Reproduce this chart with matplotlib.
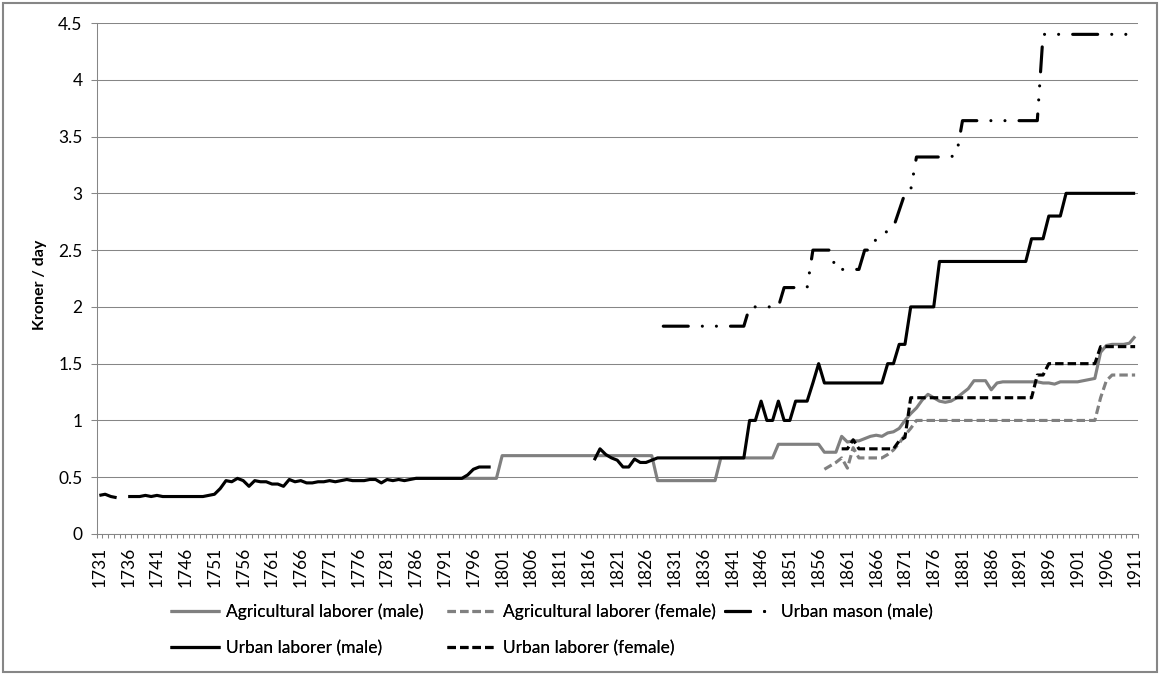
import numpy as np
import matplotlib
matplotlib.use("Agg")
import matplotlib.pyplot as plt
from matplotlib.patches import Rectangle
from matplotlib.ticker import FixedLocator, FuncFormatter

plt.rcParams['font.family'] = ['Lato', 'DejaVu Sans']

# ---------------- data ----------------
FIRST_YEAR = 1731
LAST_YEAR = 1911
years = np.arange(FIRST_YEAR, LAST_YEAR + 1)
tick_years = list(range(1731, 1912, 5))
y_ticks = [0, 0.5, 1, 1.5, 2, 2.5, 3, 3.5, 4, 4.5]

labels = ["Agricultural laborer (male)", "Agricultural laborer (female)",
          "Urban mason (male)", "Urban laborer (male)", "Urban laborer (female)"]

# Agricultural laborer (male), from 1786
agri_male_start = 1786
agri_male = [0.49, 0.49, 0.49, 0.49, 0.49, 0.49, 0.49, 0.49, 0.49, 0.49,
             0.49, 0.49, 0.49, 0.49, 0.49,                                  # 1786-1800
             0.69, 0.69, 0.69, 0.69, 0.69, 0.69, 0.69, 0.69, 0.69, 0.69,
             0.69, 0.69, 0.69, 0.69, 0.69, 0.69, 0.69, 0.69, 0.69, 0.69,
             0.69, 0.69, 0.69, 0.69, 0.69, 0.69, 0.69,                      # 1801-1827
             0.47, 0.47, 0.47, 0.47, 0.47, 0.47, 0.47, 0.47, 0.47, 0.47,
             0.47,                                                          # 1828-1838
             0.67, 0.67, 0.67, 0.67, 0.67, 0.67, 0.67, 0.67, 0.67, 0.67,    # 1839-1848
             0.79, 0.79, 0.79, 0.79, 0.79, 0.79, 0.79, 0.79,                # 1849-1856
             0.72, 0.72, 0.72,                                              # 1857-1859
             0.86, 0.81, 0.82, 0.82, 0.84, 0.86, 0.87, 0.86, 0.89, 0.90,    # 1860-1869
             0.93, 1.00, 1.06, 1.11, 1.18, 1.23, 1.20, 1.17, 1.16, 1.17,    # 1870-1879
             1.20, 1.24, 1.28, 1.35, 1.35, 1.35, 1.27, 1.33, 1.34, 1.34,    # 1880-1889
             1.34, 1.34, 1.34, 1.34, 1.34, 1.33, 1.33, 1.32, 1.34, 1.34,    # 1890-1899
             1.34, 1.34, 1.35, 1.36, 1.37, 1.60, 1.66, 1.67, 1.67, 1.67,    # 1900-1909
             1.68, 1.74]                                                    # 1910-1911

# Agricultural laborer (female), from 1857
agri_female_start = 1857
agri_female = [0.57, 0.60, 0.63, 0.67, 0.58, 0.76, 0.67, 0.67, 0.67, 0.67,  # 1857-1866
               0.67, 0.70, 0.74, 0.80, 0.87, 0.93, 1.00,                    # 1867-1873
               1.00, 1.00, 1.00, 1.00, 1.00, 1.00, 1.00, 1.00, 1.00, 1.00,
               1.00, 1.00, 1.00, 1.00, 1.00, 1.00, 1.00, 1.00, 1.00, 1.00,
               1.00, 1.00, 1.00, 1.00, 1.00, 1.00, 1.00, 1.00, 1.00, 1.00,
               1.00,                                                        # 1874-1904
               1.20, 1.35, 1.40, 1.40, 1.40, 1.40, 1.40]                    # 1905-1911

# Urban mason (male), from 1829
mason_start = 1829
mason = [1.83, 1.83, 1.83, 1.83, 1.83, 1.83, 1.83, 1.83, 1.83, 1.83,
         1.83, 1.83, 1.83, 1.83, 1.83,                                      # 1829-1843
         2.00, 2.00, 2.00, 2.00, 2.00, 2.00,                                # 1844-1849
         2.17, 2.17, 2.17, 2.17, 2.17,                                      # 1850-1854
         2.50, 2.50, 2.50, 2.50,                                            # 1855-1858
         2.33, 2.33, 2.33, 2.33, 2.33,                                      # 1859-1863
         2.50, 2.50,                                                        # 1864-1865
         2.60, 2.63, 2.67, 2.70, 2.85, 3.00, 3.03,                          # 1866-1872
         3.32, 3.32, 3.32, 3.32, 3.32, 3.32, 3.32,                          # 1873-1879
         3.35,                                                              # 1880
         3.64, 3.64, 3.64, 3.64, 3.64, 3.64, 3.64, 3.64, 3.64, 3.64,
         3.64, 3.64, 3.64, 3.64,                                            # 1881-1894
         4.40, 4.40, 4.40, 4.40, 4.40, 4.40, 4.40, 4.40, 4.40, 4.40,
         4.40, 4.40, 4.40, 4.40, 4.40, 4.40, 4.40]                          # 1895-1911

# Urban laborer (male): three stretches
urban_male_a_start = 1731
urban_male_a = [0.34, 0.35, 0.33, 0.32]                                     # 1731-1734
urban_male_b_start = 1736
urban_male_b = [0.33, 0.33, 0.33, 0.34, 0.33, 0.34, 0.33, 0.33, 0.33, 0.33,
                0.33, 0.33, 0.33, 0.33,                                     # 1736-1749
                0.34, 0.35, 0.40, 0.47, 0.46, 0.49, 0.47, 0.42, 0.47, 0.46, # 1750-1759
                0.46, 0.44, 0.44, 0.42, 0.48, 0.46, 0.47, 0.45, 0.45, 0.46, # 1760-1769
                0.46, 0.47, 0.46, 0.47, 0.48, 0.47, 0.47, 0.47, 0.48, 0.48, # 1770-1779
                0.45, 0.48, 0.47, 0.48, 0.47, 0.48, 0.49, 0.49, 0.49, 0.49, # 1780-1789
                0.49, 0.49, 0.49, 0.49, 0.49, 0.52, 0.57, 0.59, 0.59, 0.59] # 1790-1799
urban_male_c_start = 1817
urban_male_c = [0.65, 0.75, 0.70, 0.67, 0.65, 0.59, 0.59, 0.66, 0.63, 0.63,
                0.65, 0.67,                                                 # 1817-1828
                0.67, 0.67, 0.67, 0.67, 0.67, 0.67, 0.67, 0.67, 0.67, 0.67,
                0.67, 0.67, 0.67, 0.67, 0.67,                               # 1829-1843
                1.00, 1.00, 1.17, 1.00, 1.00, 1.17, 1.00, 1.00, 1.17, 1.17,
                1.17, 1.33, 1.50, 1.33,                                     # 1844-1857
                1.33, 1.33, 1.33, 1.33, 1.33, 1.33, 1.33, 1.33, 1.33, 1.33, # 1858-1867
                1.50, 1.50, 1.67, 1.67, 2.00, 2.00, 2.00, 2.00, 2.00,       # 1868-1876
                2.40, 2.40, 2.40, 2.40, 2.40, 2.40, 2.40, 2.40, 2.40, 2.40,
                2.40, 2.40, 2.40, 2.40, 2.40, 2.40,                         # 1877-1892
                2.60, 2.60, 2.60, 2.80, 2.80, 2.80, 3.00,                   # 1893-1899
                3.00, 3.00, 3.00, 3.00, 3.00, 3.00, 3.00, 3.00, 3.00, 3.00,
                3.00, 3.00]                                                 # 1900-1911

# Urban laborer (female), from 1860
urban_female_start = 1860
urban_female = [0.75, 0.75, 0.83, 0.75,                                     # 1860-1863
                0.75, 0.75, 0.75, 0.75, 0.75, 0.75,                         # 1864-1869
                0.82, 0.85,                                                 # 1870-1871
                1.20, 1.20, 1.20, 1.20, 1.20, 1.20, 1.20, 1.20, 1.20, 1.20,
                1.20, 1.20, 1.20, 1.20, 1.20, 1.20, 1.20, 1.20, 1.20, 1.20,
                1.20, 1.20,                                                 # 1872-1893
                1.40, 1.40,                                                 # 1894-1895
                1.50, 1.50, 1.50, 1.50, 1.50, 1.50, 1.50, 1.50, 1.50,       # 1896-1904
                1.65, 1.65, 1.65, 1.65, 1.65, 1.65, 1.65]                   # 1905-1911


def build(*segments):
    arr = np.full(len(years), np.nan)
    for start, vals in segments:
        i = start - FIRST_YEAR
        v = np.asarray(vals, dtype=float)
        arr[i:i + len(v)] = v
    return arr


s_agri_male = build((agri_male_start, agri_male))
s_agri_female = build((agri_female_start, agri_female))
s_mason = build((mason_start, mason))
s_urban_male = build((urban_male_a_start, urban_male_a),
                     (urban_male_b_start, urban_male_b),
                     (urban_male_c_start, urban_male_c))
s_urban_female = build((urban_female_start, urban_female))

# ---------------- figure ----------------
W, H = 1160, 675
FS = 12.5
fig = plt.figure(figsize=(W / 100, H / 100), dpi=100)
fig.patch.set_facecolor("white")

ax_l, ax_r, ax_t, ax_b = 96.5, 1138, 23, 534
ax = fig.add_axes([ax_l / W, 1 - ax_b / H, (ax_r - ax_l) / W, (ax_b - ax_t) / H])

GRID = "#868686"
GRAY = "#808080"
LW = 2.25

styles = [
    dict(color=GRAY, lw=LW, linestyle="-", solid_capstyle="butt", solid_joinstyle="round"),
    dict(color=GRAY, lw=LW, linestyle=(0, (2.7, 1.3)), dash_capstyle="butt", dash_joinstyle="round"),
    dict(color="black", lw=LW, linestyle=(0, (8, 4.5, 0.001, 4.5, 0.001, 4.5)),
         dash_capstyle="round", dash_joinstyle="round"),
    dict(color="black", lw=LW, linestyle="-", solid_capstyle="butt", solid_joinstyle="round"),
    dict(color="black", lw=LW, linestyle=(0, (2.7, 1.3)), dash_capstyle="butt", dash_joinstyle="round"),
]
series = [s_agri_male, s_agri_female, s_mason, s_urban_male, s_urban_female]

handles = []
for s, st, lab in zip(series, styles, labels):
    ln, = ax.plot(years, s, label=lab, **st)
    handles.append(ln)

ax.set_xlim(FIRST_YEAR - 0.5, LAST_YEAR + 0.5)
ax.set_ylim(0, 4.5)

# y axis
ax.yaxis.set_major_locator(FixedLocator(y_ticks))
ax.yaxis.set_major_formatter(FuncFormatter(lambda v, p: f"{v:g}"))
ax.tick_params(axis="y", which="major", direction="out", length=4, width=0.75,
               color=GRID, pad=6, labelsize=FS, labelcolor="black")
ax.grid(axis="y", color=GRID, linewidth=0.75)
ax.set_axisbelow(True)

# x axis: labels at category centres, tick marks at category borders
ax.xaxis.set_major_locator(FixedLocator(tick_years))
ax.xaxis.set_minor_locator(FixedLocator(np.arange(FIRST_YEAR - 0.5, LAST_YEAR + 1.0, 1.0)))
ax.tick_params(axis="x", which="major", length=0, pad=9, labelsize=FS,
               labelrotation=90, labelcolor="black")
ax.tick_params(axis="x", which="minor", direction="out", length=3, width=0.75, color=GRID)

for side in ("top", "right"):
    ax.spines[side].set_visible(False)
for side in ("left", "bottom"):
    ax.spines[side].set_color(GRID)
    ax.spines[side].set_linewidth(0.75)

fig.text(40 / W, 1 - 285 / H, "Kroner / day", rotation=90, ha="center", va="center",
         fontsize=11.5, fontweight="bold", color="black")

# legend: five single entries, placed like the reference
legend_pos = [(170, 612), (447, 612), (725, 612), (170, 648), (447, 648)]
for h, lab, (lx, ly) in zip(handles, labels, legend_pos):
    lg = fig.legend([h], [lab], loc="center left",
                    bbox_to_anchor=(lx / W, 1 - ly / H), frameon=False,
                    fontsize=FS, handlelength=2.9, handletextpad=0.35,
                    borderpad=0, borderaxespad=0)
    fig.add_artist(lg)

# chart border
fig.add_artist(Rectangle((3 / W, 3 / H), (W - 6) / W, (H - 6) / H, transform=fig.transFigure,
                         fill=False, edgecolor=GRID, linewidth=1.5))

fig.savefig("out.png", dpi=100, facecolor="white")
